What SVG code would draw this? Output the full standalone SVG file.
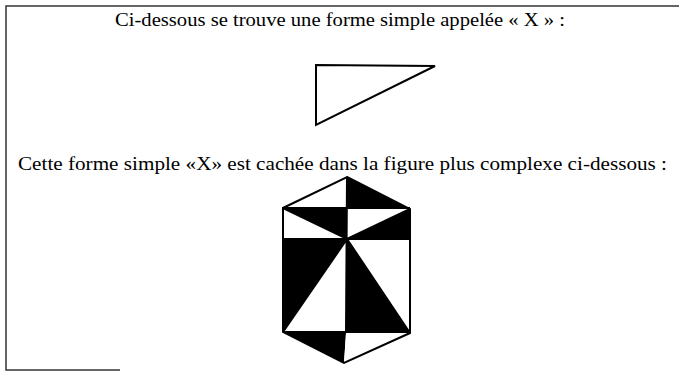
<svg xmlns="http://www.w3.org/2000/svg" width="679" height="371" viewBox="0 0 679 371">
<style>
.t{font-family:"Liberation Serif","Times New Roman",serif;font-size:18px;fill:#000}
.frame{stroke:#333;stroke-width:1.5;fill:none}
.blk{fill:#000}
.wht{fill:#fff}
.edge{stroke:#000;stroke-width:2;fill:none;stroke-linejoin:miter}
</style>
<rect width="679" height="371" fill="#fff"/>
<g id="frame">
<path class="frame" d="M679 6 H6 V370 H120"/>
</g>
<g id="text1"><text class="t" x="115" y="26" textLength="450" lengthAdjust="spacingAndGlyphs">Ci-dessous se trouve une forme simple appelée « X » :</text></g>
<g id="shapeX">
<path class="edge" d="M316 65 L435 66 L316 125 Z"/>
</g>
<g id="text2"><text class="t" x="18" y="170" textLength="649" lengthAdjust="spacingAndGlyphs">Cette forme simple «X» est cachée dans la figure plus complexe ci-dessous :</text></g>
<g id="complex">
<polygon class="wht" points="347,177 283,208 347,209"/>
<polygon class="blk" points="347,177 410,209 347,209"/>
<polygon class="blk" points="283,208 347,209 347,239"/>
<polygon class="wht" points="283,208 283,239 347,239"/>
<polygon class="wht" points="347,209 410,209 347,239"/>
<polygon class="blk" points="410,209 410,240 347,239"/>
<polygon class="blk" points="283,239 347,239 283,332"/>
<polygon class="wht" points="347,239 283,332 346,333"/>
<polygon class="wht" points="347,239 410,240 410,333"/>
<polygon class="blk" points="347,239 410,333 346,333"/>
<polygon class="blk" points="283,332 346,333 344,363"/>
<polygon class="wht" points="346,333 410,333 344,363"/>
<path class="edge" d="M347 177 L410 209 L410 333 L344 363 L283 332 L283 208 Z"/>
<path class="edge" d="M283 208 H410 M283 239 H410 M283 332 H410 M347 177 L346 333 M283 208 L347 239 L410 209 M283 332 L347 239 L410 333"/>
</g>
</svg>
